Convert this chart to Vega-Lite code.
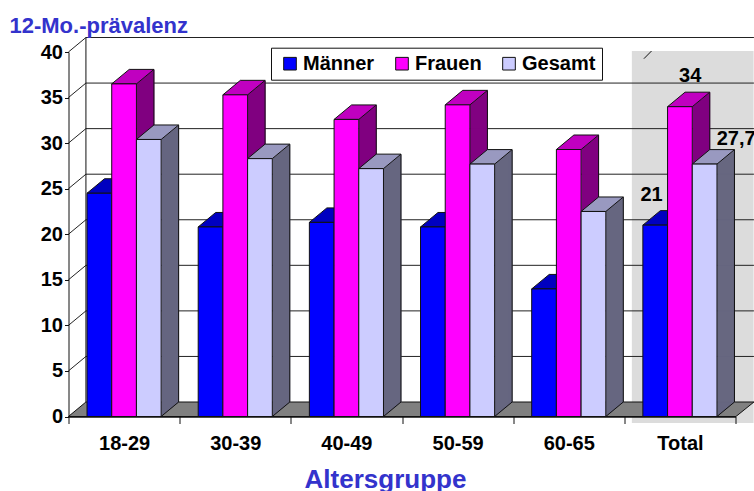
{"$schema":"https://vega.github.io/schema/vega-lite/v6.json","width":667,"height":364.5,"autosize":"none","padding":{"left":68.5,"top":52,"right":18.5,"bottom":74.5},"background":"white",
"config":{"view":{"stroke":null},"font":"Liberation Sans"},
"datasets":{
"bars":[
{"gruppe":"18-29","serie":"Männer","wert":24.5},{"gruppe":"18-29","serie":"Frauen","wert":36.5},{"gruppe":"18-29","serie":"Gesamt","wert":30.4},
{"gruppe":"30-39","serie":"Männer","wert":20.8},{"gruppe":"30-39","serie":"Frauen","wert":35.3},{"gruppe":"30-39","serie":"Gesamt","wert":28.3},
{"gruppe":"40-49","serie":"Männer","wert":21.3},{"gruppe":"40-49","serie":"Frauen","wert":32.6},{"gruppe":"40-49","serie":"Gesamt","wert":27.2},
{"gruppe":"50-59","serie":"Männer","wert":20.8},{"gruppe":"50-59","serie":"Frauen","wert":34.2},{"gruppe":"50-59","serie":"Gesamt","wert":27.7},
{"gruppe":"60-65","serie":"Männer","wert":14},{"gruppe":"60-65","serie":"Frauen","wert":29.3},{"gruppe":"60-65","serie":"Gesamt","wert":22.5},
{"gruppe":"Total","serie":"Männer","wert":21,"label":"21"},{"gruppe":"Total","serie":"Frauen","wert":34,"label":"34"},{"gruppe":"Total","serie":"Gesamt","wert":27.7,"label":"27,7"}],
"basis":[{"gruppe":"18-29","serie":"Gesamt","wert":0},{"gruppe":"30-39","serie":"Gesamt","wert":0},{"gruppe":"40-49","serie":"Gesamt","wert":0},{"gruppe":"50-59","serie":"Gesamt","wert":0},{"gruppe":"60-65","serie":"Gesamt","wert":0},{"gruppe":"Total","serie":"Gesamt","wert":0}],
"grid":[{"t":5},{"t":10},{"t":15},{"t":20},{"t":25},{"t":30},{"t":35},{"t":40}]},
"encoding":{
"x":{"field":"gruppe","type":"nominal","scale":{"domain":["18-29","30-39","40-49","50-59","60-65","Total"],"paddingInner":0,"paddingOuter":0},"axis":{"title":"Altersgruppe","titleFont":"Liberation Sans","titleFontSize":26,"titleFontWeight":"bold","titleColor":"#3333cc","titleX":316.5,"titleY":70.5,"titleBaseline":"alphabetic","labelAngle":0,"labelFont":"Liberation Sans","labelFontSize":20,"labelFontWeight":"bold","labelColor":"#000","labelPadding":10,"domainColor":"#111","domainWidth":1.5,"tickColor":"#111","tickSize":7,"tickBand":"extent","zindex":1}},
"y":{"field":"wert","type":"quantitative","scale":{"domain":[0,40],"nice":false},"axis":{"title":"12-Mo.-prävalenz","titleAngle":0,"titleFont":"Liberation Sans","titleFontSize":22,"titleFontWeight":"bold","titleColor":"#3333cc","titleX":-59.5,"titleY":-20,"titleAlign":"left","titleBaseline":"alphabetic","values":[0,5,10,15,20,25,30,35,40],"grid":false,"labelFont":"Liberation Sans","labelFontSize":20,"labelFontWeight":"bold","labelColor":"#000","labelPadding":2,"domainColor":"#111","domainWidth":1,"tickColor":"#111","tickSize":4,"zindex":1}}},
"layer":[
{"data":{"values":[{"gruppe":"Total","wert":0}]},"mark":{"type":"point","filled":true,"opacity":1,"size":4,"fill":"#dcdcdc","stroke":null,"shape":"M-48.05 -365.5L73.65 -365.5L73.65 6.5L-48.05 6.5Z"}},
{"data":{"name":"grid"},"mark":{"type":"point","filled":false,"opacity":1,"size":4,"stroke":"#222","strokeWidth":1,"shape":"M-55.65 0L-38.15 -14.5L629.85 -14.5"},"encoding":{"x":{"datum":"18-29"},"y":{"field":"t","type":"quantitative"}}},
{"data":{"values":[{"gruppe":"18-29","wert":0}]},"mark":{"type":"point","filled":false,"opacity":1,"size":4,"stroke":"#111","strokeWidth":1,"shape":"M-38.15 -14.5L-38.15 -379"}},
{"data":{"values":[{"gruppe":"18-29","wert":0}]},"mark":{"type":"point","filled":true,"opacity":1,"size":4,"fill":"#808080","stroke":"#111","strokeWidth":1,"shape":"M-55.65 0L-38.15 -14.5L629.85 -14.5L611.85 0Z"}},
{"data":{"values":[{"gruppe":"Total","wert":0}]},"mark":{"type":"point","filled":false,"opacity":1,"size":4,"stroke":"#111","strokeWidth":1,"shape":"M-36 -357.8L-28.4 -365.5"}},
{"data":{"name":"bars"},"transform":[{"filter":"datum.serie=='Frauen'"}],"encoding":{"y2":{"datum":0}},
"layer":[
{"mark":{"type":"rule","stroke":"#800080","strokeWidth":1.8,"xOffset":13.35,"yOffset":-0.83,"y2Offset":-0.83}},
{"mark":{"type":"rule","stroke":"#800080","strokeWidth":1.8,"xOffset":14.35,"yOffset":-1.66,"y2Offset":-1.66}},
{"mark":{"type":"rule","stroke":"#800080","strokeWidth":1.8,"xOffset":15.35,"yOffset":-2.49,"y2Offset":-2.49}},
{"mark":{"type":"rule","stroke":"#800080","strokeWidth":1.8,"xOffset":16.35,"yOffset":-3.31,"y2Offset":-3.31}},
{"mark":{"type":"rule","stroke":"#800080","strokeWidth":1.8,"xOffset":17.35,"yOffset":-4.14,"y2Offset":-4.14}},
{"mark":{"type":"rule","stroke":"#800080","strokeWidth":1.8,"xOffset":18.35,"yOffset":-4.97,"y2Offset":-4.97}},
{"mark":{"type":"rule","stroke":"#800080","strokeWidth":1.8,"xOffset":19.35,"yOffset":-5.8,"y2Offset":-5.8}},
{"mark":{"type":"rule","stroke":"#800080","strokeWidth":1.8,"xOffset":20.35,"yOffset":-6.63,"y2Offset":-6.63}},
{"mark":{"type":"rule","stroke":"#800080","strokeWidth":1.8,"xOffset":21.35,"yOffset":-7.46,"y2Offset":-7.46}},
{"mark":{"type":"rule","stroke":"#800080","strokeWidth":1.8,"xOffset":22.35,"yOffset":-8.29,"y2Offset":-8.29}},
{"mark":{"type":"rule","stroke":"#800080","strokeWidth":1.8,"xOffset":23.35,"yOffset":-9.11,"y2Offset":-9.11}},
{"mark":{"type":"rule","stroke":"#800080","strokeWidth":1.8,"xOffset":24.35,"yOffset":-9.94,"y2Offset":-9.94}},
{"mark":{"type":"rule","stroke":"#800080","strokeWidth":1.8,"xOffset":25.35,"yOffset":-10.77,"y2Offset":-10.77}},
{"mark":{"type":"rule","stroke":"#800080","strokeWidth":1.8,"xOffset":26.35,"yOffset":-11.6,"y2Offset":-11.6}},
{"mark":{"type":"rule","stroke":"#800080","strokeWidth":1.8,"xOffset":27.35,"yOffset":-12.43,"y2Offset":-12.43}},
{"mark":{"type":"rule","stroke":"#800080","strokeWidth":1.8,"xOffset":28.35,"yOffset":-13.26,"y2Offset":-13.26}},
{"mark":{"type":"rule","stroke":"#800080","strokeWidth":1.8,"xOffset":29.35,"yOffset":-14.09,"y2Offset":-14.09}},
{"mark":{"type":"rule","stroke":"#111","strokeWidth":1,"xOffset":29.85,"yOffset":-14.5,"y2Offset":-14.5}}
]},
{"data":{"name":"bars"},"transform":[{"filter":"datum.serie=='Gesamt'"}],"encoding":{"y2":{"datum":0}},
"layer":[
{"mark":{"type":"rule","stroke":"#666680","strokeWidth":1.8,"xOffset":38.05,"yOffset":-0.83,"y2Offset":-0.83}},
{"mark":{"type":"rule","stroke":"#666680","strokeWidth":1.8,"xOffset":39.05,"yOffset":-1.66,"y2Offset":-1.66}},
{"mark":{"type":"rule","stroke":"#666680","strokeWidth":1.8,"xOffset":40.05,"yOffset":-2.49,"y2Offset":-2.49}},
{"mark":{"type":"rule","stroke":"#666680","strokeWidth":1.8,"xOffset":41.05,"yOffset":-3.31,"y2Offset":-3.31}},
{"mark":{"type":"rule","stroke":"#666680","strokeWidth":1.8,"xOffset":42.05,"yOffset":-4.14,"y2Offset":-4.14}},
{"mark":{"type":"rule","stroke":"#666680","strokeWidth":1.8,"xOffset":43.05,"yOffset":-4.97,"y2Offset":-4.97}},
{"mark":{"type":"rule","stroke":"#666680","strokeWidth":1.8,"xOffset":44.05,"yOffset":-5.8,"y2Offset":-5.8}},
{"mark":{"type":"rule","stroke":"#666680","strokeWidth":1.8,"xOffset":45.05,"yOffset":-6.63,"y2Offset":-6.63}},
{"mark":{"type":"rule","stroke":"#666680","strokeWidth":1.8,"xOffset":46.05,"yOffset":-7.46,"y2Offset":-7.46}},
{"mark":{"type":"rule","stroke":"#666680","strokeWidth":1.8,"xOffset":47.05,"yOffset":-8.29,"y2Offset":-8.29}},
{"mark":{"type":"rule","stroke":"#666680","strokeWidth":1.8,"xOffset":48.05,"yOffset":-9.11,"y2Offset":-9.11}},
{"mark":{"type":"rule","stroke":"#666680","strokeWidth":1.8,"xOffset":49.05,"yOffset":-9.94,"y2Offset":-9.94}},
{"mark":{"type":"rule","stroke":"#666680","strokeWidth":1.8,"xOffset":50.05,"yOffset":-10.77,"y2Offset":-10.77}},
{"mark":{"type":"rule","stroke":"#666680","strokeWidth":1.8,"xOffset":51.05,"yOffset":-11.6,"y2Offset":-11.6}},
{"mark":{"type":"rule","stroke":"#666680","strokeWidth":1.8,"xOffset":52.05,"yOffset":-12.43,"y2Offset":-12.43}},
{"mark":{"type":"rule","stroke":"#666680","strokeWidth":1.8,"xOffset":53.05,"yOffset":-13.26,"y2Offset":-13.26}},
{"mark":{"type":"rule","stroke":"#666680","strokeWidth":1.8,"xOffset":54.05,"yOffset":-14.09,"y2Offset":-14.09}},
{"mark":{"type":"rule","stroke":"#111","strokeWidth":1,"xOffset":54.55,"yOffset":-14.5,"y2Offset":-14.5}}
]},
{"data":{"name":"basis"},
"encoding":{"xOffset":{"field":"serie","type":"nominal","scale":{"domain":["Männer","Frauen","Gesamt"],"paddingInner":0,"paddingOuter":0.75}}},
"mark":{"type":"point","filled":false,"opacity":1,"size":4,"stroke":"#111","strokeWidth":1,"shape":"M12.35 0L29.85 -14.5"}},
{"data":{"name":"bars"},
"encoding":{"xOffset":{"field":"serie","type":"nominal","scale":{"domain":["Männer","Frauen","Gesamt"],"paddingInner":0,"paddingOuter":0.75}}},
"layer":[
{"transform":[{"filter":"datum.serie=='Männer'"}],"mark":{"type":"point","filled":true,"opacity":1,"size":4,"fill":"#0000c0","stroke":"#111","strokeWidth":1,"shape":"M-12.35 0L12.35 0L29.85 -14.5L5.15 -14.5Z"}},
{"transform":[{"filter":"datum.serie=='Frauen'"}],"mark":{"type":"point","filled":true,"opacity":1,"size":4,"fill":"#c000c0","stroke":"#111","strokeWidth":1,"shape":"M-12.35 0L12.35 0L29.85 -14.5L5.15 -14.5Z"}},
{"transform":[{"filter":"datum.serie=='Gesamt'"}],"mark":{"type":"point","filled":true,"opacity":1,"size":4,"fill":"#9999c0","stroke":"#111","strokeWidth":1,"shape":"M-12.35 0L12.35 0L29.85 -14.5L5.15 -14.5Z"}},
{"mark":{"type":"bar","stroke":"#111","strokeWidth":1},"encoding":{"y2":{"datum":0},"fill":{"field":"serie","type":"nominal","scale":{"domain":["Männer","Frauen","Gesamt"],"range":["#0000ff","#ff00ff","#ccccff"]},"legend":{"title":null,"orient":"none","legendX":202.5,"legendY":-4.3,"direction":"horizontal","columns":3,"symbolType":"square","symbolSize":160,"symbolStrokeColor":"#111","symbolStrokeWidth":1,"symbolOffset":3,"labelFont":"Liberation Sans","labelFontSize":20,"labelFontWeight":"bold","labelColor":"#000","labelOffset":3,"columnPadding":14,"padding":6,"fillColor":"white","strokeColor":"#111"}}}},
{"transform":[{"filter":"datum.label=='21'"}],"mark":{"type":"text","font":"Liberation Sans","fontSize":20,"fontWeight":"bold","color":"#000","baseline":"alphabetic","align":"center","dx":-3.6,"dy":-23.7},"encoding":{"text":{"field":"label"}}},
{"transform":[{"filter":"datum.label=='34'"}],"mark":{"type":"text","font":"Liberation Sans","fontSize":20,"fontWeight":"bold","color":"#000","baseline":"alphabetic","align":"center","dx":10.3,"dy":-25},"encoding":{"text":{"field":"label"}}},
{"transform":[{"filter":"datum.label=='27,7'"}],"mark":{"type":"text","font":"Liberation Sans","fontSize":20,"fontWeight":"bold","color":"#000","baseline":"alphabetic","align":"center","dx":31.5,"dy":-19.4},"encoding":{"text":{"field":"label"}}}
]}
]}
